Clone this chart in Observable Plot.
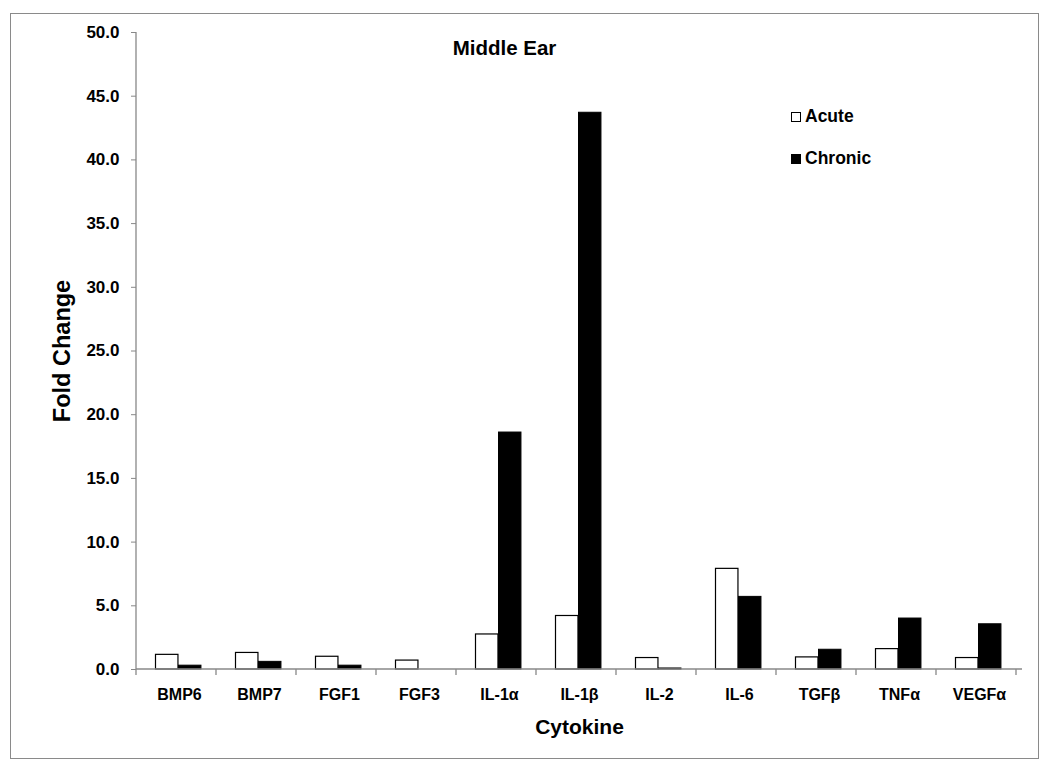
<!DOCTYPE html>
<html>
<head>
<meta charset="utf-8">
<script src="https://cdn.jsdelivr.net/npm/d3@7"></script>
<script src="https://cdn.jsdelivr.net/npm/@observablehq/plot@0.6"></script>
<style>
  html, body { margin: 0; padding: 0; background: #fff; }
  #wrap { position: relative; width: 1050px; height: 771px; font-family: "Liberation Sans", Arial, sans-serif; }
  #border { position: absolute; left: 10px; top: 13px; width: 1029px; height: 746px; border: 1.5px solid #8a8a8a; box-sizing: border-box; pointer-events: none; }
  .leg { position: absolute; font-weight: bold; font-size: 17.5px; color: #000; display: flex; align-items: center; }
  .sw { width: 10px; height: 10px; border: 1.3px solid #000; margin-right: 4px; box-sizing: border-box; }
</style>
</head>
<body>
<div id="wrap">
  <div id="chart"></div>
  <div id="border"></div>
  <div class="leg" style="left:791px; top:106px;"><span class="sw" style="background:#fff"></span>Acute</div>
  <div class="leg" style="left:791px; top:148px;"><span class="sw" style="background:#000"></span>Chronic</div>
</div>
<script>
const categories = ["BMP6", "BMP7", "FGF1", "FGF3", "IL-1α", "IL-1β", "IL-2", "IL-6", "TGFβ", "TNFα", "VEGFα"];
const acute   = [1.15, 1.3, 1.0, 0.7, 2.75, 4.2, 0.9, 7.9, 0.95, 1.6, 0.9];
const chronic = [0.3, 0.6, 0.3, 0.0, 18.6, 43.7, 0.08, 5.7, 1.55, 4.0, 3.55];
const yTicks = [0, 5, 10, 15, 20, 25, 30, 35, 40, 45, 50];

const acuteData = categories.map((c, i) => ({cat: c, v: acute[i]}));
const chronicData = categories.map((c, i) => ({cat: c, v: chronic[i]}));

const W = 1050, H = 771;
const mL = 136, mR = 28, mT = 32, mB = 102;
const step = (W - mL - mR) / categories.length;
const barW = 23;
const groupLeft = 16.5;

const plot = Plot.plot({
  width: W,
  height: H,
  marginLeft: mL,
  marginRight: mR,
  marginTop: mT,
  marginBottom: mB,
  style: {fontFamily: "Liberation Sans, Arial, sans-serif", background: "transparent"},
  x: {domain: categories, padding: 0},
  y: {domain: [0, 50]},
  marks: [
    Plot.axisY({ticks: yTicks, tickFormat: d => d.toFixed(1), tickSize: 5, tickPadding: 12, stroke: "#888", fontSize: 17, fontWeight: "bold", fill: "#000", label: null}),
    Plot.axisX({tickSize: 0, tickPadding: 19, fontSize: 16, fontWeight: "bold", fill: "#000", label: null}),
    Plot.barY(acuteData, {x: "cat", y: "v", fill: "#fff", stroke: "#000", strokeWidth: 1.2,
      insetLeft: groupLeft, insetRight: step - groupLeft - barW}),
    Plot.barY(chronicData, {x: "cat", y: "v", fill: "#000", stroke: "#000", strokeWidth: 1,
      insetLeft: groupLeft + barW, insetRight: step - groupLeft - 2 * barW}),
    Plot.text(["Middle Ear"], {frameAnchor: "top", dx: -75, dy: 8, fontSize: 20.5, fontWeight: "bold", fill: "#000"}),
    Plot.text(["Fold Change"], {frameAnchor: "left", textAnchor: "middle", rotate: -90, dx: -74, fontSize: 23.5, fontWeight: "bold", fill: "#000"}),
    Plot.text(["Cytokine"], {frameAnchor: "bottom", dx: 0, dy: 64, fontSize: 21, fontWeight: "bold", fill: "#000"})
  ]
});

// axis lines and category-boundary ticks, from the plot's own scales
const xs = plot.scale("x"), ys = plot.scale("y");
const svg = d3.select(plot);
const x0 = xs.range[0], x1 = xs.range[1];
const y0 = ys.apply(0), yTop = ys.apply(50);
const g = svg.append("g").attr("stroke", "#888").attr("stroke-width", 1.3);
g.append("line").attr("x1", x0).attr("x2", x0).attr("y1", y0).attr("y2", yTop);
g.append("line").attr("x1", x0).attr("x2", x1).attr("y1", y0).attr("y2", y0);
for (let i = 0; i <= categories.length; i++) {
  const xb = x0 + i * xs.step;
  g.append("line").attr("x1", xb).attr("x2", xb).attr("y1", y0).attr("y2", y0 + 6);
}
document.getElementById("chart").appendChild(plot);
</script>
</body>
</html>
